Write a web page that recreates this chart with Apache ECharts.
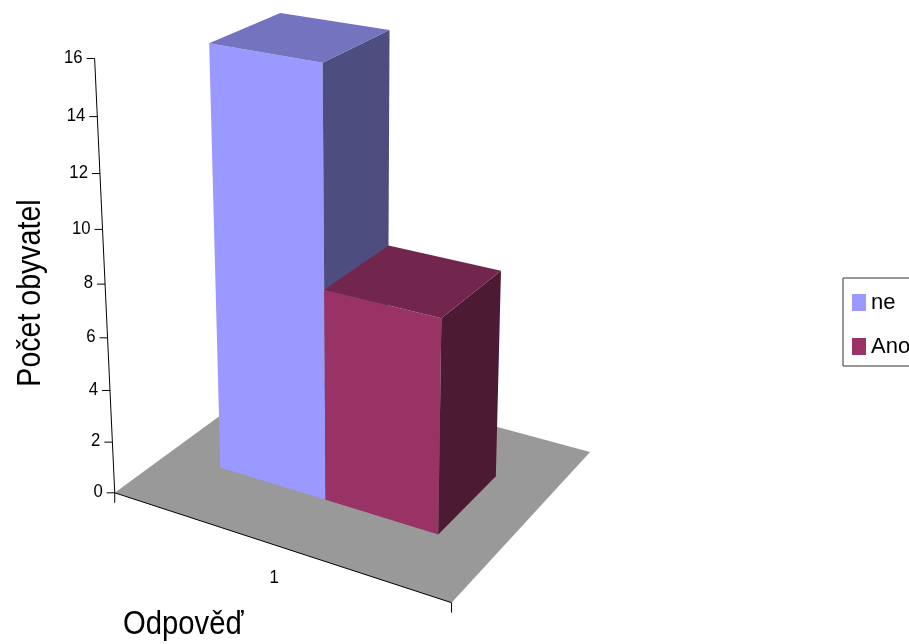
<!DOCTYPE html>
<html><head><meta charset="utf-8">
<style>html,body{margin:0;padding:0;background:#fff;overflow:hidden}#c{width:909px;height:644px}</style>
<script src="https://cdn.jsdelivr.net/npm/echarts@6/dist/echarts.min.js"></script>
</head><body><div id="c"></div>
<script>
// ---- data ----
const categories = ['1'];
const seriesNames = ['ne', 'Ano'];
const neValues = [16];
const anoValues = [8];
const yTicks = [0, 2, 4, 6, 8, 10, 12, 14, 16];
const xTitle = 'Odpověď';
const yTitle = 'Počet obyvatel';

// ---- style ----
const FONT = '"Liberation Sans", Arial, sans-serif';
const faces = {
  ne:  { front: '#9999FF', top: '#7373BF', side: '#4D4D80' },
  Ano: { front: '#993366', top: '#73264D', side: '#4D1A33' }
};
// Camera: (u along category, v along value 0..1, w depth) -> screen
const CAM = [291.2259, -27.2435, 209.7061, 114.7406,
             48.9935, -438.7470, -70.3019, 492.8154,
             -0.1010, -0.0753, 0.1444];
const project = (u, v, w) => {
  const q = CAM[8]*u + CAM[9]*v + CAM[10]*w + 1;
  return [(CAM[0]*u + CAM[1]*v + CAM[2]*w + CAM[3]) / q,
          (CAM[4]*u + CAM[5]*v + CAM[6]*w + CAM[7]) / q];
};
const BOX = 100;                 // hidden cartesian grid size: normalises the axis scales
const uvOf = pt => [pt[0] / BOX, (BOX - pt[1]) / BOX];
const BAR_SPAN = 1 / 3, W0 = 0.3, W1 = 0.7;

const poly = (pts, fill) => ({ type: 'polygon', shape: { points: pts }, style: { fill } });
const line = (a, b) => ({ type: 'line', shape: { x1: a[0], y1: a[1], x2: b[0], y2: b[1] },
  style: { stroke: '#000', lineWidth: 1, fill: null } });
const label = (text, x, y, align) => ({ type: 'text', x, y, scaleX: 0.88,
  style: { text, x: 0, y: 0, align, verticalAlign: 'middle', fill: '#000', fontSize: 19, fontFamily: FONT } });

function barSeries(name, values, idx) {
  return {
    name, type: 'custom', coordinateSystem: 'cartesian2d', z: 3 + idx,
    itemStyle: { color: faces[name].front },
    encode: { x: 0, y: 1 },
    data: values.map((v, i) => [categories[i], v]),
    renderItem(params, api) {
      const [uc, v] = uvOf(api.coord([api.value(0), api.value(1)]));
      const u0 = uc - BAR_SPAN + idx * BAR_SPAN, u1 = u0 + BAR_SPAN;
      const f = faces[name];
      return { type: 'group', children: [
        poly([project(u0,0,W0), project(u1,0,W0), project(u1,v,W0), project(u0,v,W0)], f.front),
        poly([project(u1,0,W0), project(u1,0,W1), project(u1,v,W1), project(u1,v,W0)], f.side),
        poly([project(u0,v,W0), project(u1,v,W0), project(u1,v,W1), project(u0,v,W1)], f.top)
      ]};
    }
  };
}

const floorSeries = {
  name: 'floor', type: 'custom', coordinateSystem: 'cartesian2d', z: 1,
  data: [[categories[0], 0]], encode: { x: 0, y: 1 },
  renderItem() {
    return { type: 'group', children: [
      poly([project(0,0,0), project(1,0,0), project(1,0,1), project(0,0,1)], '#999999'),
      line(project(0,0,0), project(1,0,0)),
      line(project(0,0,0), [project(0,0,0)[0], project(0,0,0)[1] + 10]),
      line(project(1,0,0), [project(1,0,0)[0], project(1,0,0)[1] + 10]),
      line(project(0,0,0), project(0,1,0)),
      (p => label(categories[0], p[0], p[1] + 33, 'center'))(project(0.5,0,0))
    ]};
  }
};

const tickSeries = {
  name: 'ticks', type: 'custom', coordinateSystem: 'cartesian2d', z: 2,
  data: yTicks.map(t => [categories[0], t]), encode: { x: 0, y: 1 },
  renderItem(params, api) {
    const v = uvOf(api.coord([api.value(0), api.value(1)]))[1];
    const p = project(0, v, 0);
    return { type: 'group', children: [
      line([p[0] - 8, p[1]], p),
      label(String(api.value(1)), p[0] - 12, p[1] - 1, 'right')
    ]};
  }
};

const chart = echarts.init(document.getElementById('c'), null, { renderer: 'canvas' });
chart.setOption({
  animation: false,
  backgroundColor: '#fff',
  grid: { left: 0, top: 0, width: BOX, height: BOX, show: false, containLabel: false },
  xAxis: { type: 'category', data: categories, show: false },
  yAxis: { type: 'value', min: 0, max: 16, interval: 2, show: false },
  legend: {
    data: seriesNames, left: 843, top: 278, orient: 'vertical',
    padding: [13.5, 8, 8.5, 9], itemGap: 22, itemWidth: 14, itemHeight: 17,
    backgroundColor: '#fff', borderColor: '#333', borderWidth: 1, borderRadius: 0,
    icon: 'rect', selectedMode: false,
    textStyle: { fontSize: 22, fontFamily: FONT, color: '#000' }
  },
  graphic: [
    { type: 'text', x: 123, y: 625, scaleX: 0.86, silent: true,
      style: { text: xTitle, x: 0, y: 0, fontSize: 34, fontFamily: FONT, fill: '#000', align: 'left', verticalAlign: 'middle' } },
    { type: 'text', x: 31, y: 293, rotation: Math.PI / 2, scaleX: 0.84, silent: true,
      style: { text: yTitle, x: 0, y: 0, fontSize: 34, fontFamily: FONT, fill: '#000', align: 'center', verticalAlign: 'middle' } }
  ],
  series: [floorSeries, tickSeries, barSeries('ne', neValues, 0), barSeries('Ano', anoValues, 1)]
});
</script></body></html>
